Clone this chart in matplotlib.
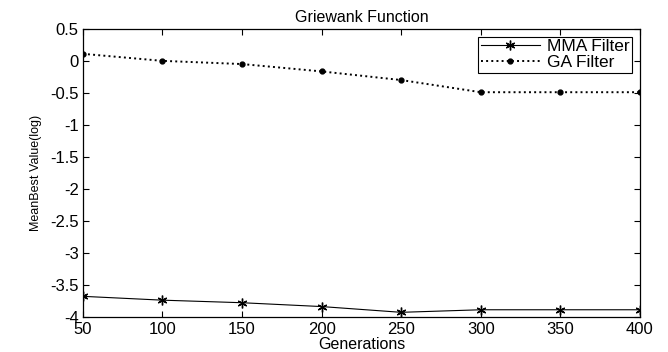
import matplotlib
matplotlib.use("Agg")
import matplotlib.pyplot as plt

plt.rcParams['font.family'] = ['Liberation Sans', 'DejaVu Sans']

generations = [50, 100, 150, 200, 250, 300, 350, 400]
mma_filter = [-3.68, -3.74, -3.78, -3.84, -3.93, -3.89, -3.89, -3.89]
ga_filter = [0.11, 0.0, -0.05, -0.165, -0.30, -0.49, -0.49, -0.49]

fig = plt.figure(figsize=(6.68, 3.52), dpi=100)
ax = fig.add_axes([0.124, 0.10, 0.834, 0.818])

# MATLAB-style asterisk and point markers
ax.plot(generations, mma_filter, color='black', linestyle='-', linewidth=0.8,
        marker=(6, 2, 0), markersize=7, markeredgewidth=1.0, label='MMA Filter')
ax.plot(generations, ga_filter, color='black', linestyle=':', linewidth=1.4,
        marker='.', markersize=7, label='GA Filter')

ax.set_xlim(50, 400)
ax.set_ylim(-4, 0.5)
ax.set_xticks(generations)
ax.set_yticks([-4, -3.5, -3, -2.5, -2, -1.5, -1, -0.5, 0, 0.5])
ax.set_yticklabels(['-4', '-3.5', '-3', '-2.5', '-2', '-1.5', '-1', '-0.5', '0', '0.5'])
ax.tick_params(direction='in', top=True, right=True, labelsize=12, length=4, width=0.8)
ax.tick_params(axis='y', pad=3)
ax.tick_params(axis='x', pad=3.5)
for s in ax.spines.values():
    s.set_linewidth(0.9)

ax.set_title('Griewank Function', fontsize=11.5, pad=5)
ax.set_xlabel('Generations', fontsize=11.5, labelpad=0)
ax.set_ylabel('MeanBest Value(log)', fontsize=9, labelpad=6)

leg = ax.legend(loc='upper right', fontsize=12.5, fancybox=False, framealpha=1,
                edgecolor='black', handlelength=3.4, borderpad=0.15, labelspacing=0.05,
                handletextpad=0.4, borderaxespad=0.45)
leg.get_frame().set_linewidth(0.8)

fig.savefig('out.png', dpi=100)
